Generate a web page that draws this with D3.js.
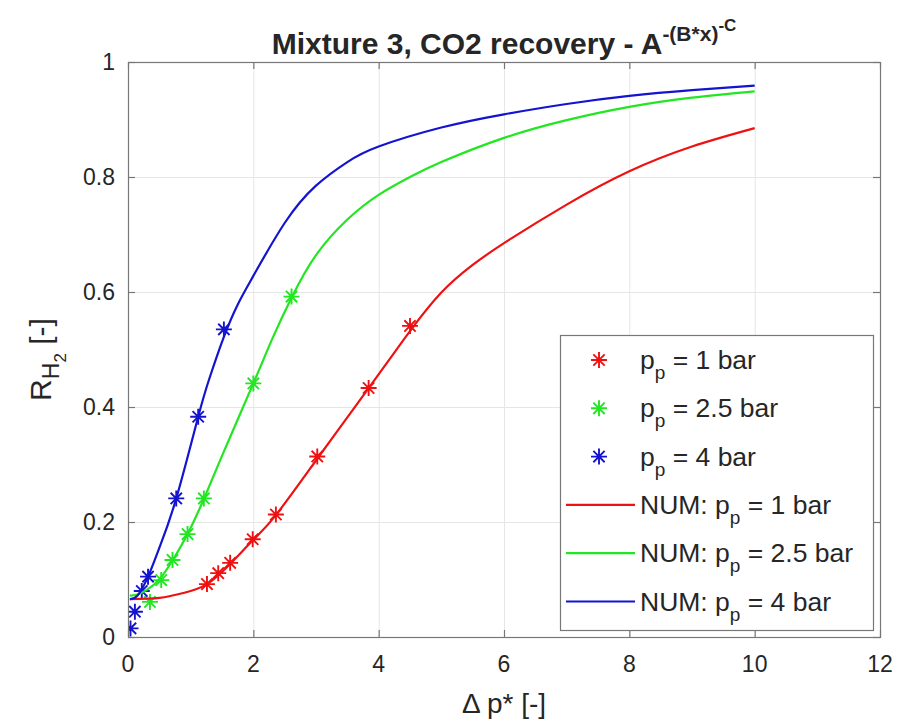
<!DOCTYPE html>
<html>
<head>
<meta charset="utf-8">
<script src="https://cdn.jsdelivr.net/npm/d3@7"></script>
<style>
  body { margin: 0; background: #fff; }
  text { font-family: "Liberation Sans", Arial, Helvetica, sans-serif; fill: #262626; }
</style>
</head>
<body>
<svg id="chart" width="901" height="723"></svg>
<script>
// ---- axis ticks ----
const xTicks = [0, 2, 4, 6, 8, 10, 12];
const yTicks = [0, 0.2, 0.4, 0.6, 0.8, 1];
const yTickLabels = ["0", "0.2", "0.4", "0.6", "0.8", "1"];

// ---- measured points [Δp*, R_H2] ----
const meas1 = [[1.26, 0.092], [1.44, 0.111], [1.63, 0.129], [1.99, 0.170], [2.36, 0.213],
               [3.02, 0.314], [3.84, 0.433], [4.50, 0.541]];
const meas25 = [[0.35, 0.061], [0.53, 0.099], [0.71, 0.134], [0.95, 0.179], [1.21, 0.241],
                [2.00, 0.441], [2.61, 0.592]];
const meas4 = [[0.04, 0.015], [0.11, 0.044], [0.22, 0.080], [0.32, 0.105], [0.77, 0.241],
               [1.12, 0.383], [1.53, 0.535]];

// ---- numerical curves [Δp*, R_H2] ----
const num1 = [[0.03, 0.066], [0.5, 0.068], [0.9, 0.077], [1.26, 0.092], [1.63, 0.127],
              [2.0, 0.169], [2.36, 0.212], [3.02, 0.310], [3.84, 0.433], [4.2, 0.487],
              [4.5, 0.532], [5.0, 0.599], [5.5, 0.647], [6.0, 0.685], [7.0, 0.752],
              [8.0, 0.810], [9.0, 0.853], [10.0, 0.885]];
const num25 = [[0.03, 0.072], [0.15, 0.074], [0.3, 0.082], [0.5, 0.100], [0.71, 0.133],
               [0.95, 0.179], [1.21, 0.240], [1.5, 0.315], [2.0, 0.441], [2.3, 0.518],
               [2.61, 0.590], [3.0, 0.664], [3.5, 0.726], [4.0, 0.769], [4.5, 0.800],
               [5.0, 0.826], [6.0, 0.868], [7.0, 0.899], [8.0, 0.922], [9.0, 0.938],
               [10.0, 0.949]];
const num4 = [[0.03, 0.066], [0.15, 0.072], [0.32, 0.105], [0.5, 0.155], [0.77, 0.241],
              [1.12, 0.383], [1.3, 0.450], [1.53, 0.522], [1.75, 0.578], [2.0, 0.628],
              [2.5, 0.720], [3.0, 0.785], [3.5, 0.826], [4.0, 0.853], [5.0, 0.886],
              [6.0, 0.909], [7.0, 0.927], [8.0, 0.941], [9.0, 0.951], [10.0, 0.959]];

const seriesColors = { p1: "#ee1111", p25: "#22e622", p4: "#1414d0" };

const svg = d3.select("#chart");
const W = 901, H = 723;
const m = { left: 128, right: 21, top: 62, bottom: 86 };
const iw = W - m.left - m.right, ih = H - m.top - m.bottom;

const x = d3.scaleLinear().domain([0, 12]).range([m.left, m.left + iw]);
const y = d3.scaleLinear().domain([0, 1]).range([m.top + ih, m.top]);

svg.append("rect").attr("width", W).attr("height", H).attr("fill", "#fff");

// grid
const grid = svg.append("g").attr("stroke", "#e6e6e6").attr("stroke-width", 1);
grid.selectAll(".gx").data(xTicks.slice(1, -1)).join("line")
  .attr("x1", d => x(d) + 0.5).attr("x2", d => x(d) + 0.5)
  .attr("y1", m.top).attr("y2", m.top + ih);
grid.selectAll(".gy").data(yTicks.slice(1, -1)).join("line")
  .attr("y1", d => y(d) + 0.5).attr("y2", d => y(d) + 0.5)
  .attr("x1", m.left).attr("x2", m.left + iw);

// clip
svg.append("clipPath").attr("id", "plotclip").append("rect")
  .attr("x", m.left).attr("y", m.top).attr("width", iw).attr("height", ih);
const plot = svg.append("g").attr("clip-path", "url(#plotclip)");

// asterisk marker
function asterisk(g, r) {
  const d = r * Math.SQRT1_2;
  g.append("path").attr("d",
    `M${-r},0H${r}M0,${-r}V${r}M${-d},${-d}L${d},${d}M${-d},${d}L${d},${-d}`);
}

function drawMarkers(data, color) {
  const g = plot.append("g").attr("stroke", color).attr("stroke-width", 1.9).attr("fill", "none");
  data.forEach(p => {
    const mg = g.append("g").attr("transform", `translate(${x(p[0])},${y(p[1])})`);
    asterisk(mg, 8);
  });
}
drawMarkers(meas1, seriesColors.p1);
drawMarkers(meas25, seriesColors.p25);
drawMarkers(meas4, seriesColors.p4);

const line = d3.line().x(d => x(d[0])).y(d => y(d[1])).curve(d3.curveNatural);
[[num1, seriesColors.p1], [num25, seriesColors.p25], [num4, seriesColors.p4]].forEach(([d, c]) => {
  plot.append("path").datum(d).attr("d", line)
    .attr("fill", "none").attr("stroke", c).attr("stroke-width", 2.2);
});

// axes (box with inward ticks on all four sides)
const axisColor = "#777";
const tl = 7;
const axG = svg.append("g").attr("stroke", axisColor).attr("stroke-width", 1.2).attr("fill", "none");
axG.append("rect").attr("x", m.left + 0.5).attr("y", m.top + 0.5).attr("width", iw).attr("height", ih);
xTicks.forEach(t => {
  axG.append("line").attr("x1", x(t) + 0.5).attr("x2", x(t) + 0.5).attr("y1", m.top + ih).attr("y2", m.top + ih - tl);
  axG.append("line").attr("x1", x(t) + 0.5).attr("x2", x(t) + 0.5).attr("y1", m.top).attr("y2", m.top + tl);
});
yTicks.forEach(t => {
  axG.append("line").attr("y1", y(t) + 0.5).attr("y2", y(t) + 0.5).attr("x1", m.left).attr("x2", m.left + tl);
  axG.append("line").attr("y1", y(t) + 0.5).attr("y2", y(t) + 0.5).attr("x1", m.left + iw).attr("x2", m.left + iw - tl);
});

// tick labels
const tickFont = 23;
svg.append("g").selectAll("text").data(xTicks).join("text")
  .attr("x", d => x(d)).attr("y", m.top + ih + 35)
  .attr("text-anchor", "middle").attr("font-size", tickFont).text(d => d);
svg.append("g").selectAll("text").data(yTicks).join("text")
  .attr("x", m.left - 13).attr("y", d => y(d) + 8)
  .attr("text-anchor", "end").attr("font-size", tickFont).text((d, i) => yTickLabels[i]);

// x label
svg.append("text").attr("x", x(6)).attr("y", 713).attr("text-anchor", "middle")
  .attr("font-size", 28).text("Δ p* [-]");

// y label: R_{H_2} [-]
const yl = svg.append("text").attr("transform", `translate(51,${m.top + ih / 2 + 10}) rotate(-90)`)
  .attr("text-anchor", "middle").attr("font-size", 30);
yl.append("tspan").text("R");
yl.append("tspan").attr("dy", 8).attr("font-size", 23).text("H");
yl.append("tspan").attr("dy", 7).attr("font-size", 17).text("2");
yl.append("tspan").attr("dy", -15).text("  [-]");

// title: Mixture 3, CO2 recovery - A^{-(B*x)^{-C}}
const tt = svg.append("text").attr("x", x(6)).attr("y", 54).attr("text-anchor", "middle")
  .attr("font-size", 30).attr("font-weight", "bold");
tt.append("tspan").text("Mixture 3, CO2 recovery - A");
tt.append("tspan").attr("dy", -13).attr("font-size", 21).text("-(B*x)");
tt.append("tspan").attr("dy", -10).attr("font-size", 17).text("-C");

// legend
const lg = svg.append("g");
lg.append("rect").attr("x", 560.5).attr("y", 335.5).attr("width", 313).attr("height", 295)
  .attr("fill", "#fff").attr("stroke", axisColor).attr("stroke-width", 1.2);
const legendItems = [
  { kind: "marker", color: seriesColors.p1, pre: "", val: " = 1 bar" },
  { kind: "marker", color: seriesColors.p25, pre: "", val: " = 2.5 bar" },
  { kind: "marker", color: seriesColors.p4, pre: "", val: " = 4 bar" },
  { kind: "line", color: seriesColors.p1, pre: "NUM: ", val: " = 1 bar" },
  { kind: "line", color: seriesColors.p25, pre: "NUM: ", val: " = 2.5 bar" },
  { kind: "line", color: seriesColors.p4, pre: "NUM: ", val: " = 4 bar" }
];
legendItems.forEach((it, i) => {
  const cy = 360 + i * 48.3;
  if (it.kind === "marker") {
    const mg = lg.append("g").attr("transform", `translate(599,${cy})`)
      .attr("stroke", it.color).attr("stroke-width", 1.9);
    asterisk(mg, 8);
  } else {
    lg.append("line").attr("x1", 566).attr("x2", 635).attr("y1", cy).attr("y2", cy)
      .attr("stroke", it.color).attr("stroke-width", 2.2);
  }
  const t = lg.append("text").attr("x", 640).attr("y", cy + 9).attr("font-size", 26.5);
  t.append("tspan").text(it.pre + "p");
  t.append("tspan").attr("dy", 10).attr("font-size", 19).text("p");
  t.append("tspan").attr("dy", -10).text(it.val);
});
</script>
</body>
</html>
